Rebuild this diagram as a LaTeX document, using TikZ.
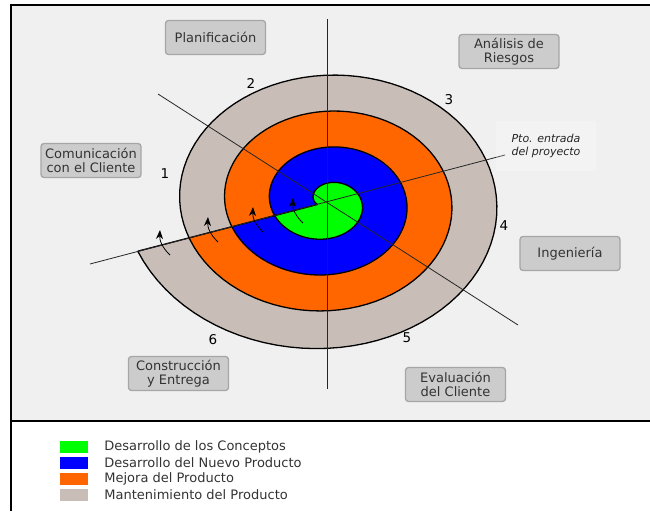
\documentclass[tikz,border=0pt]{standalone}
\usepackage{fontspec}
\setmainfont{DejaVu Sans}
\usepackage{xcolor}
\usetikzlibrary{arrows.meta,positioning}

\definecolor{conceptgreen}{HTML}{00FF00}
\definecolor{productblue}{HTML}{0000FF}
\definecolor{improveorange}{HTML}{FF6600}
\definecolor{maintgray}{HTML}{C8BEB7}
\definecolor{panelbg}{HTML}{F0F0F0}
\definecolor{boxfill}{HTML}{CCCCCC}
\definecolor{boxline}{HTML}{A6A6A6}

\tikzset{
  stagebox/.style={draw=boxline, fill=boxfill, line width=1.3pt, rounded corners=3pt,
    minimum width=100pt, minimum height=34pt, align=center, text=black!80,
    font=\fontsize{13}{14}\selectfont},
  stagenum/.style={font=\fontsize{13.5}{14}\selectfont},
  thinline/.style={draw=black!85, line width=0.8pt},
  turnarrow/.style={-{Stealth[length=9pt,width=7pt]}, line width=0.8pt},
  keybox/.style={minimum width=28pt, minimum height=12pt, inner sep=0pt},
  keytext/.style={inner sep=0pt, text=black!80, font=\fontsize{13}{14}\selectfont}
}

\begin{document}
\begin{tikzpicture}[x=1pt, y=-1pt,
    declare function={spirad(\t)=10+\t/8+9*(max(0,\t-1260)/180)^3;
      spx(\t)=327+spirad(\t)*cos(198-\t);
      spy(\t)=202-0.8*spirad(\t)*sin(198-\t);}]
    \useasboundingbox (0,0) rectangle (650,511);

    % Panel
    \fill[panelbg] (11,5) rectangle (650,421);
    \draw[line width=1.5pt] (650,5) -- (11,5) -- (11,511);
    \draw[line width=2pt] (11,421) -- (650,421);

    % Spiral, outer turn first
    \fill[maintgray] plot[domain=1080:1440, samples=90, variable=\t] ({spx(\t)},{spy(\t)}) -- cycle;
    \fill[improveorange] plot[domain=720:1080, samples=90, variable=\t] ({spx(\t)},{spy(\t)}) -- cycle;
    \fill[productblue] plot[domain=360:720, samples=90, variable=\t] ({spx(\t)},{spy(\t)}) -- cycle;
    \fill[conceptgreen] plot[domain=0:360, samples=90, variable=\t] ({spx(\t)},{spy(\t)}) -- cycle;
    \draw[line width=1.3pt, line join=round] plot[domain=0:1440, samples=360, variable=\t] ({spx(\t)},{spy(\t)});
    \coordinate (sstart) at ({spx(0)},{spy(0)});
    \coordinate (send) at ({spx(1440)},{spy(1440)});
    \draw[line width=1.3pt] (send) -- (sstart);

    % Quadrant lines
    \coordinate (vtop) at (327,19);
    \coordinate (vbot) at (327,389);
    \coordinate (dtop) at (158,94);
    \coordinate (dbot) at (518,325);
    \coordinate (rlow) at (90,264);
    \coordinate (rhigh) at (505,155);
    \draw[thinline] (vtop) -- (vbot);
    \draw[thinline] (dtop) -- (dbot);
    \draw[thinline] (rlow) -- (rhigh);

    % Turn arrows
    \foreach \x/\y in {293/198, 253/207, 208/217, 160/230}
        \draw[turnarrow] (\x+10,\y+25) to[bend left=25] (\x,\y);

    % Entry point
    \node[fill=white, fill opacity=0.2, text opacity=1, align=left, minimum width=100pt,
        minimum height=50pt, font=\itshape\fontsize{11}{13}\selectfont, text=black!85]
        (entrada) at (546,146) {Pto. entrada\\del proyecto};

    % Stages
    \node[stagebox] (plan) at (215.5,37.5) {Planificación};
    \node[stagebox] (riesgos) at (509,51.5) {Análisis de\\Riesgos};
    \node[stagebox] (comunic) at (91,160.5) {Comunicación\\con el Cliente};
    \node[stagebox] (ingen) at (570,253.5) {Ingeniería};
    \node[stagebox] (constr) at (178.5,373.5) {Construcción\\y Entrega};
    \node[stagebox] (evalua) at (455.5,384.5) {Evaluación\\del Cliente};

    % Numbers
    \node[stagenum] (n1) at (165,174) {1};
    \node[stagenum] (n2) at (251,83) {2};
    \node[stagenum] (n3) at (449,100) {3};
    \node[stagenum] (n4) at (504,226) {4};
    \node[stagenum] (n5) at (407,338) {5};
    \node[stagenum] (n6) at (213,340) {6};

    % Legend
    \foreach \c/\txt [count=\i from 0] in {conceptgreen/Desarrollo de los Conceptos,
            productblue/Desarrollo del Nuevo Producto,
            improveorange/Mejora del Producto,
            maintgray/Mantenimiento del Producto} {
        \node[keybox, fill=\c] (key\i) at (74,447+16*\i) {};
        \node[keytext, right=16pt of key\i] (keytext\i) {\txt};
    }
\end{tikzpicture}
\end{document}
